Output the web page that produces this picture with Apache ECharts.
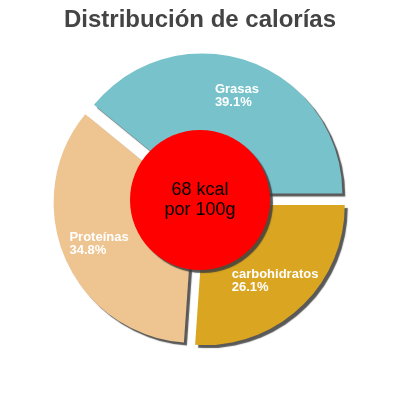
<!DOCTYPE html>
<html>
<head>
<meta charset="utf-8">
<script src="https://cdn.jsdelivr.net/npm/echarts@6/dist/echarts.min.js"></script>
<style>html,body{margin:0;padding:0;background:#fff}#c{width:400px;height:400px}</style>
</head>
<body>
<div id="c"></div>
<script>
var titleText = 'Distribución de calorías';
var categories = ['Grasas', 'carbohidratos', 'Proteínas'];
var values = [39.1, 26.1, 34.8];
var colors = ['#78c3cb', '#daa520', '#eec591'];
var centerLines = ['68 kcal', 'por 100g'];

var chart = echarts.init(document.getElementById('c'), null, {renderer: 'canvas'});
var startAngle = values[0] / values.reduce(function (a, b) { return a + b; }, 0) * 360;

function mkData(transparent) {
  return categories.map(function (n, i) {
    return {
      name: n, value: values[i], selected: true,
      itemStyle: transparent ? {color: 'rgba(0,0,0,0)'} : {color: colors[i]}
    };
  });
}

chart.setOption({
  animation: false,
  title: {
    text: titleText, left: 'center', top: 3,
    textStyle: {fontFamily: 'Liberation Sans', fontSize: 24, fontWeight: 'bold', color: '#444'}
  },
  series: [
    {
      type: 'pie', radius: [0, 140], center: [200, 200],
      startAngle: startAngle, clockwise: true,
      selectedMode: 'multiple', selectedOffset: 7,
      silent: true, avoidLabelOverlap: false,
      label: {show: false}, labelLine: {show: false},
      itemStyle: {shadowColor: 'rgba(60,60,60,0.85)', shadowBlur: 1, shadowOffsetX: 3, shadowOffsetY: 3, borderWidth: 0},
      select: {itemStyle: {borderWidth: 0}},
      emphasis: {disabled: true, scale: false},
      data: mkData(false)
    },
    {
      type: 'pie', radius: [60, 140], center: [200, 200],
      startAngle: startAngle, clockwise: true,
      selectedMode: 'multiple', selectedOffset: 7,
      silent: true, avoidLabelOverlap: false,
      labelLine: {show: false},
      label: {
        show: true, position: 'inside', color: '#fff',
        fontFamily: 'Liberation Sans', fontSize: 13, fontWeight: 'bold', lineHeight: 13,
        formatter: function (p) { return '{t|' + p.name + '}\n{t|' + p.value.toFixed(1) + '%}'; },
        rich: {t: {align: 'left', color: '#fff', fontFamily: 'Liberation Sans', fontSize: 13, fontWeight: 'bold', lineHeight: 13}}
      },
      itemStyle: {color: 'rgba(0,0,0,0)', borderWidth: 0},
      select: {itemStyle: {borderWidth: 0}},
      emphasis: {disabled: true, scale: false},
      data: mkData(true)
    },
    {
      type: 'pie', radius: [0, 70], center: [200, 200],
      silent: true,
      labelLine: {show: false},
      label: {
        show: true, position: 'center', color: '#000',
        fontFamily: 'Liberation Sans', fontSize: 18, lineHeight: 20,
        formatter: centerLines.join('\n')
      },
      itemStyle: {color: '#ff0000', shadowColor: 'rgba(60,60,60,0.85)', shadowBlur: 1, shadowOffsetX: 3, shadowOffsetY: 3},
      emphasis: {disabled: true, scale: false},
      data: [{name: 'kcal', value: 1}]
    }
  ]
});
</script>
</body>
</html>
